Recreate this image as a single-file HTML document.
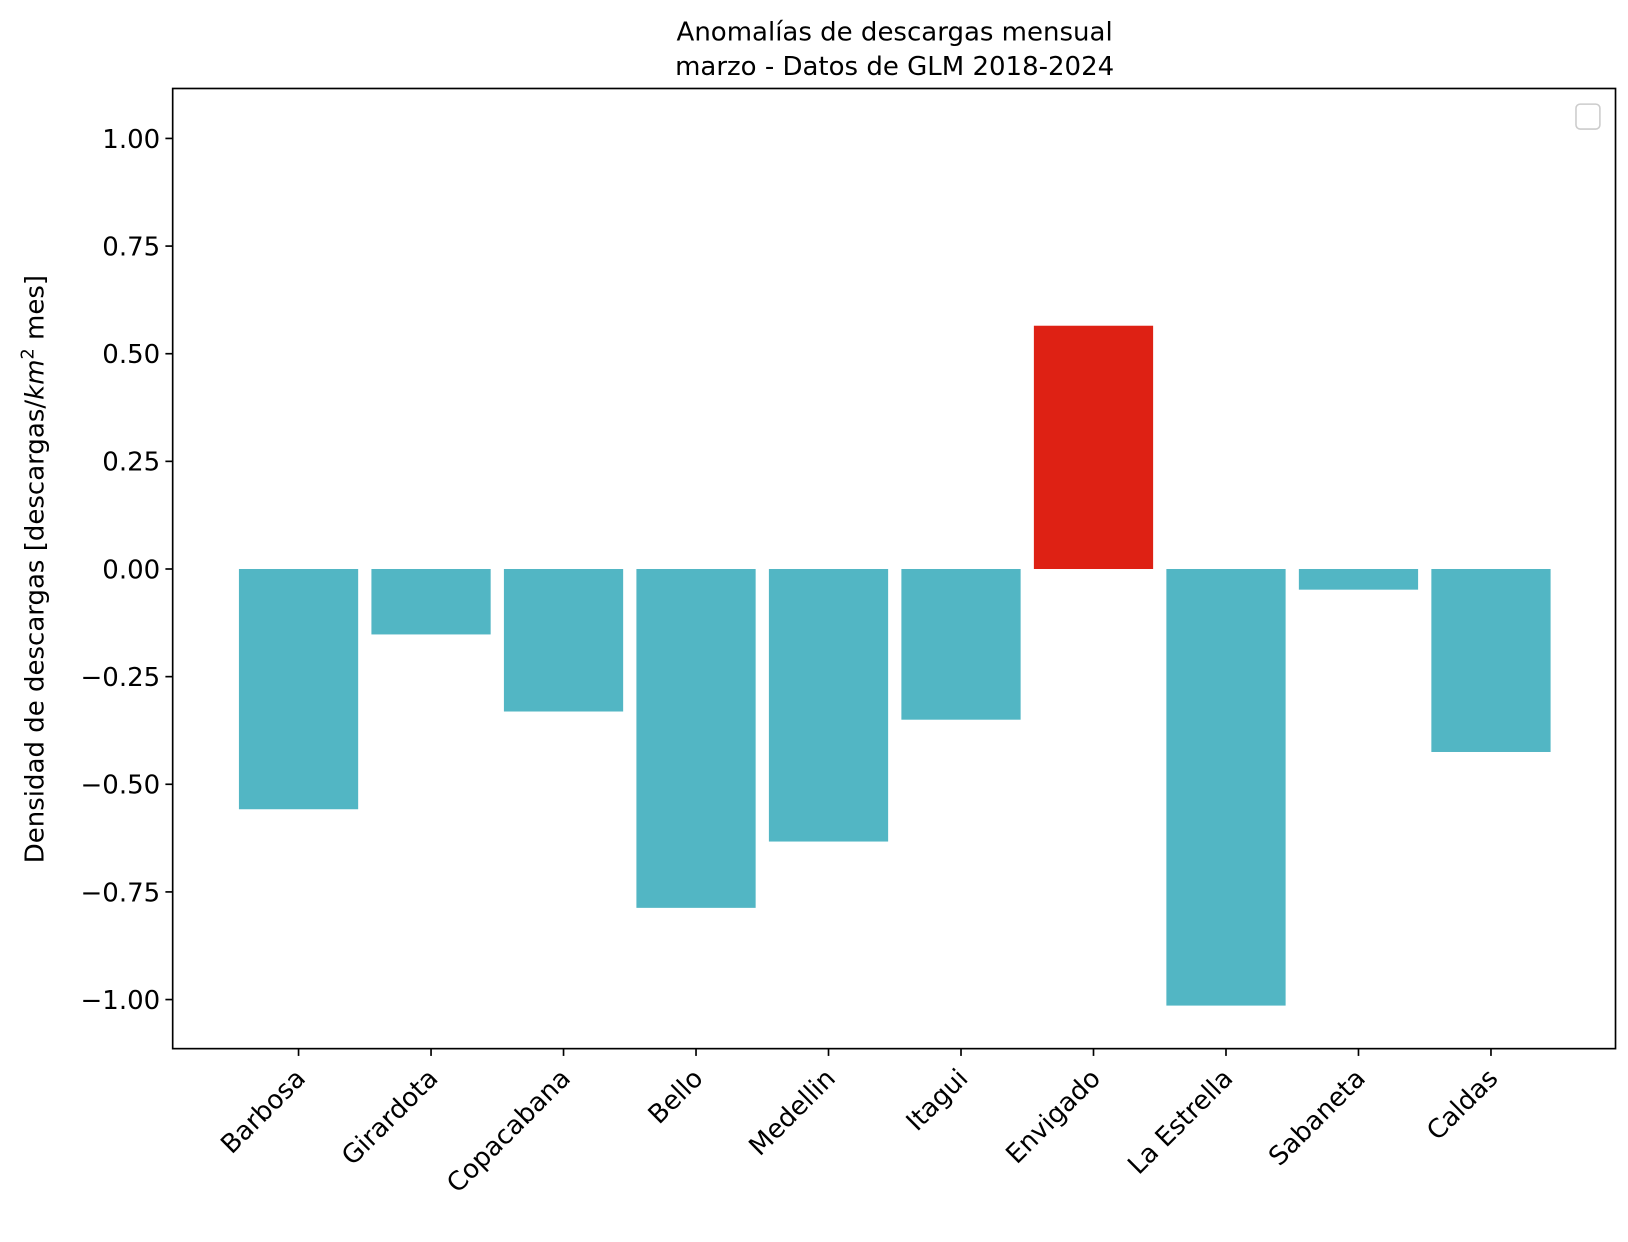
<!DOCTYPE html>
<html><head><meta charset="utf-8"><style>
body{margin:0;background:#fff;}
svg text{font-family:"DejaVu Sans","Liberation Sans",sans-serif;fill:#000;}
</style></head><body>
<svg id="chart" width="1628" height="1237" viewBox="0 0 1565 1189" xmlns="http://www.w3.org/2000/svg">
<text x="860" y="39" font-size="25" text-anchor="middle">Anomalías de descargas mensual</text>
<text x="860" y="72" font-size="25" text-anchor="middle">marzo - Datos de GLM 2018-2024</text>
<g id="bars"></g>
<g id="yaxis"></g>
<g id="xaxis"></g>
<rect x="166" y="85" width="1387" height="923" fill="none" stroke="#000" stroke-width="1.6"/>
<rect x="1515" y="100" width="23" height="24" rx="4" fill="#fff" stroke="#ccc" stroke-width="1.5"/>
<text transform="translate(42,547) rotate(-90)" font-size="25" text-anchor="middle">Densidad de descargas [descargas/<tspan font-style="italic">km</tspan><tspan font-size="17" dy="-10">2</tspan><tspan dy="10"> mes]</tspan></text>
</svg>
<script>
const categories=["Barbosa","Girardota","Copacabana","Bello","Medellin","Itagui","Envigado","La Estrella","Sabaneta","Caldas"];
const values=[-0.558,-0.152,-0.331,-0.787,-0.633,-0.350,0.565,-1.014,-0.048,-0.425];
const yTicks=[-1.0,-0.75,-0.5,-0.25,0,0.25,0.5,0.75,1.0];
const yTickLabels=["\u22121.00","\u22120.75","\u22120.50","\u22120.25","0.00","0.25","0.50","0.75","1.00"];
const NS="http://www.w3.org/2000/svg";
const L=166,R=1553,T=85,B=1008;
const xMin=-0.95,xMax=9.94,yMin=-1.114,yMax=1.116;
const xs=v=>L+(v-xMin)/(xMax-xMin)*(R-L);
const ys=v=>B-(v-yMin)/(yMax-yMin)*(B-T);
function mk(tag,attrs,parent){const e=document.createElementNS(NS,tag);for(const k in attrs)e.setAttribute(k,attrs[k]);parent.appendChild(e);return e;}
const bars=document.getElementById('bars'),ya=document.getElementById('yaxis'),xa=document.getElementById('xaxis');
const bw=(xs(0.9)-xs(0));
values.forEach((v,i)=>{
 const y0=ys(0),y1=ys(v);
 const r=mk('rect',{x:xs(i)-bw/2,y:Math.min(y0,y1),width:bw,height:Math.abs(y1-y0),fill:v>0?'#de2114':'#52b6c4'},bars);
 
 
});
yTicks.forEach((t,i)=>{
 const y=ys(t);
 const l=mk('line',{x1:L-7,x2:L,y1:y,y2:y,stroke:'#000','stroke-width':1.6},ya);
 
 
 const tx=mk('text',{x:L-12,y:y+9,'font-size':25,'text-anchor':'end'},ya);
 tx.textContent=yTickLabels[i];
 
 
});
categories.forEach((c,i)=>{
 const x=xs(i);
 const l=mk('line',{x1:x,x2:x,y1:B,y2:B+7,stroke:'#000','stroke-width':1.6},xa);
 
 
 const tx=mk('text',{transform:`translate(${x+8},${B+30}) rotate(-45)`,'font-size':25,'text-anchor':'end'},xa);
 tx.textContent=c;
 
 
});
</script>
</body></html>
